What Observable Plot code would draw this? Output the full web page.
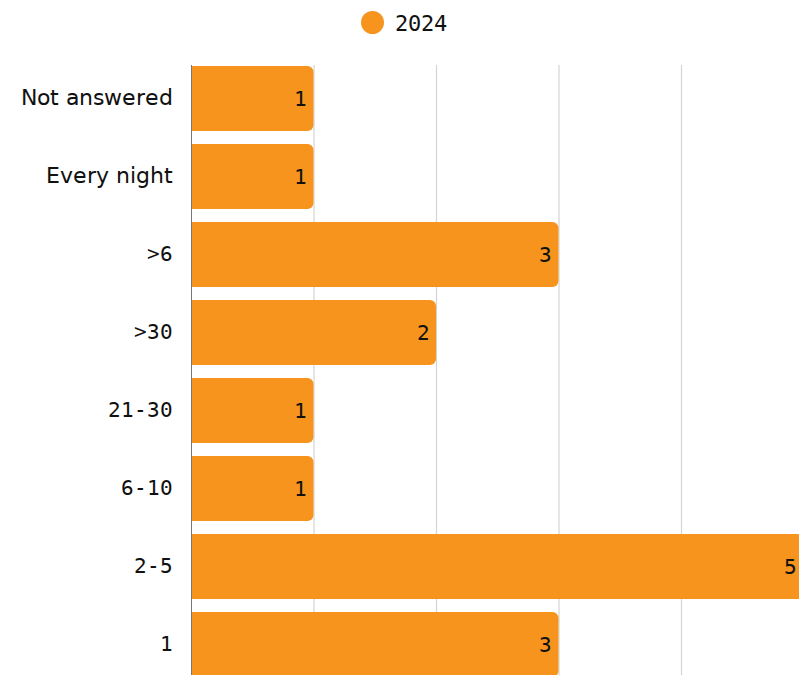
<!DOCTYPE html>
<html>
<head>
<meta charset="utf-8">
<script src="https://cdn.jsdelivr.net/npm/d3@7"></script>
<script src="https://cdn.jsdelivr.net/npm/@observablehq/plot@0.6"></script>
<style>
@font-face { font-family: "MixNum"; src: local("DejaVu Sans Mono"); unicode-range: U+0030-0039, U+002D, U+003E; }
@font-face { font-family: "MixNum"; src: local("DejaVu Sans"); size-adjust: 106%; unicode-range: U+0020-002C, U+002E-002F, U+003A-003D, U+003F-007E; }
html, body { margin: 0; padding: 0; background: #fff; overflow: hidden; }
body { width: 799px; font-family: "MixNum", "DejaVu Sans", sans-serif; }
#legend { height: 45px; display: flex; justify-content: center; align-items: center; gap: 11px; font-size: 22px; color: #111; padding-left: 9px; box-sizing: border-box; }
#legend .dot { width: 23px; height: 23px; border-radius: 50%; background: #F7941D; }
</style>
</head>
<body>
<div id="legend"><span class="dot"></span><span>2024</span></div>
<div id="chart"></div>
<script>
const categories = ["Not answered", "Every night", ">6", ">30", "21-30", "6-10", "2-5", "1"];
const values2024 = [1, 1, 3, 2, 1, 1, 5, 3];
const xTicks = [1, 2, 3, 4];
const seriesName = "2024";

const data = categories.map((c, i) => ({category: c, value: values2024[i]}));
const color = "#F7941D";

const chart = Plot.plot({
  width: 799,
  height: 632,
  marginLeft: 191,
  marginRight: 0,
  marginTop: 20,
  marginBottom: 0,
  style: {fontFamily: "MixNum, 'DejaVu Sans', sans-serif", fontSize: "21px", color: "#111"},
  x: {domain: [0, 5], range: [191, 803.5], axis: null},
  y: {domain: categories, paddingInner: 0.168, paddingOuter: 0, align: 0.5, label: null, tickSize: 0, tickPadding: 19},
  marks: [
    Plot.ruleX(xTicks, {stroke: "#d4d4d4", strokeWidth: 1.2}),
    Plot.barX(data, {x: "value", y: "category", fill: color, rx: 6}),
    Plot.barX(data, {x1: 0, x2: d => d.value / 2, y: "category", fill: color}),
    Plot.ruleX([0], {stroke: "#777", strokeWidth: 1}),
    Plot.text(data, {x: "value", y: "category", text: d => String(d.value), textAnchor: "end", dx: -7, dy: 0, fontSize: 21, fill: "#111"}),
    Plot.axisY({tickSize: 0, tickPadding: 19, fontSize: 21, dy: -1, label: null, fill: "#111"})
  ]
});
document.getElementById("chart").appendChild(chart);
</script>
</body>
</html>
